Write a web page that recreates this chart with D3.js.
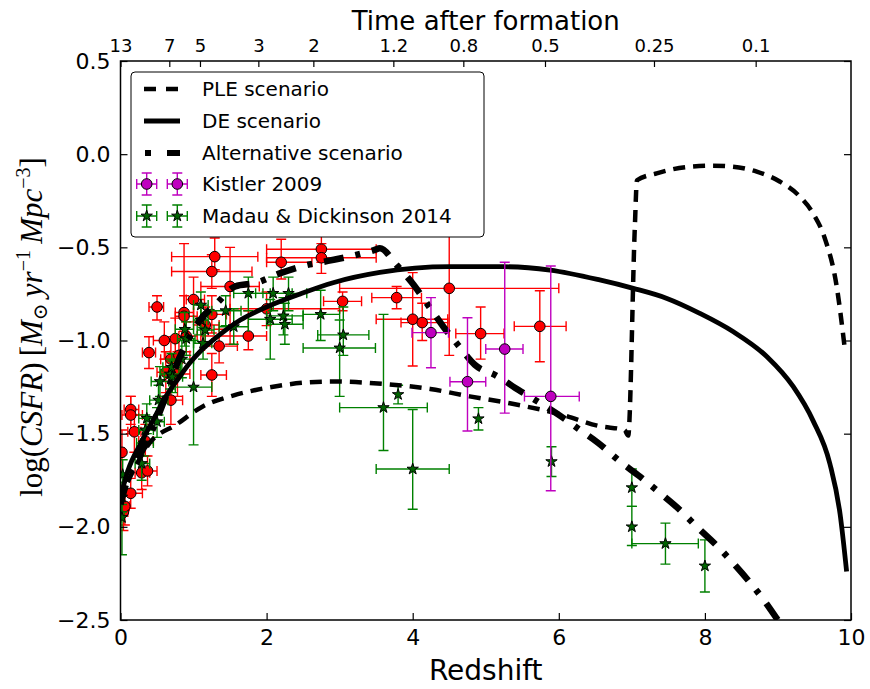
<!DOCTYPE html>
<meta charset="utf-8">
<style>
body { margin: 0; background: #fff; }
text { font-family: "DejaVu Sans", sans-serif; fill: #000; }
.axis path.domain { display: none; }
.axis .tick line { stroke: #000; stroke-width: 1.2; }
</style>
<body>
<script src="https://d3js.org/d3.v7.min.js"></script>
<script>
// ---- data ----
// points: [z, value, zLow, zHigh, valueLow, valueHigh]
var redPoints = [
  [0.02, -1.60, 0.00, 0.05, -1.72, -1.48],
  [0.04, -1.92, 0.00, 0.10, -2.02, -1.82],
  [0.06, -1.89, 0.00, 0.12, -1.99, -1.80],
  [0.14, -1.37, 0.05, 0.25, -1.45, -1.30],
  [0.14, -1.40, 0.02, 0.30, -1.50, -1.30],
  [0.14, -1.82, 0.05, 0.30, -1.90, -1.74],
  [0.19, -1.49, 0.10, 0.28, -1.60, -1.40],
  [0.34, -1.54, 0.25, 0.45, -1.62, -1.45],
  [0.29, -1.71, 0.20, 0.40, -1.80, -1.62],
  [0.37, -1.70, 0.28, 0.50, -1.78, -1.62],
  [0.39, -1.065, 0.30, 0.48, -1.15, -0.98],
  [0.50, -0.82, 0.39, 0.59, -0.89, -0.76],
  [0.60, -1.00, 0.45, 0.75, -1.10, -0.90],
  [0.62, -1.17, 0.50, 0.75, -1.28, -1.06],
  [0.69, -1.10, 0.55, 0.85, -1.20, -0.98],
  [0.69, -1.32, 0.55, 0.85, -1.45, -1.20],
  [0.75, -0.99, 0.60, 0.90, -1.10, -0.88],
  [0.78, -1.18, 0.65, 0.95, -1.30, -1.06],
  [0.80, -1.08, 0.68, 0.95, -1.18, -0.98],
  [0.87, -0.85, 0.75, 1.00, -0.95, -0.48],
  [0.87, -0.87, 0.75, 1.05, -0.98, -0.76],
  [0.90, -0.976, 0.80, 1.05, -1.06, -0.90],
  [1.00, -0.78, 0.90, 1.15, -0.90, -0.66],
  [1.16, -0.917, 1.00, 1.35, -1.02, -0.82],
  [1.25, -0.86, 1.10, 1.45, -0.96, -0.76],
  [1.25, -1.185, 1.10, 1.45, -1.30, -1.07],
  [1.25, -0.63, 0.70, 1.80, -0.72, -0.54],
  [1.29, -0.55, 0.70, 1.88, -0.62, -0.45],
  [1.35, -1.03, 1.15, 1.60, -1.12, -0.94],
  [1.50, -0.71, 1.10, 1.90, -1.02, -0.50],
  [1.75, -0.976, 1.10, 2.00, -1.05, -0.84],
  [2.00, -0.83, 1.50, 3.00, -0.92, -0.74],
  [2.20, -0.58, 2.00, 2.62, -0.67, -0.457],
  [2.75, -0.51, 2.00, 3.50, -0.58, -0.44],
  [2.75, -0.556, 2.00, 3.50, -0.64, -0.48],
  [3.04, -0.79, 2.78, 3.30, -0.84, -0.74],
  [3.78, -0.77, 3.44, 4.12, -0.83, -0.71],
  [4.00, -0.886, 3.50, 4.48, -1.137, -0.636],
  [4.13, -0.904, 3.84, 4.48, -1.00, -0.80],
  [4.50, -0.72, 3.00, 6.00, -1.08, -0.44],
  [4.93, -0.963, 4.59, 5.25, -1.10, -0.82],
  [5.74, -0.924, 5.39, 6.10, -1.114, -0.733]
];

var madauPoints = [
  [0.02, -1.84, 0.00, 0.05, -1.92, -1.76],
  [0.02, -1.95, 0.00, 0.05, -2.15, -1.88],
  [0.03, -1.72, 0.00, 0.08, -1.80, -1.64],
  [0.29, -1.66, 0.20, 0.40, -1.75, -1.57],
  [0.32, -1.55, 0.22, 0.45, -1.62, -1.48],
  [0.34, -1.48, 0.25, 0.45, -1.56, -1.40],
  [0.36, -1.418, 0.25, 0.48, -1.50, -1.34],
  [0.50, -1.436, 0.40, 0.60, -1.52, -1.36],
  [0.52, -1.32, 0.40, 0.65, -1.40, -1.24],
  [0.54, -1.22, 0.42, 0.66, -1.30, -1.14],
  [0.68, -1.18, 0.55, 0.80, -1.26, -1.10],
  [0.70, -1.144, 0.58, 0.82, -1.22, -1.07],
  [0.71, -1.195, 0.60, 0.85, -1.28, -1.11],
  [0.84, -1.10, 0.70, 1.00, -1.20, -1.00],
  [0.88, -0.94, 0.75, 1.00, -1.03, -0.85],
  [0.90, -0.99, 0.78, 1.02, -1.08, -0.90],
  [1.00, -1.25, 0.75, 1.25, -1.56, -1.00],
  [1.10, -0.81, 1.00, 1.20, -0.88, -0.74],
  [1.10, -0.89, 1.00, 1.20, -0.97, -0.81],
  [1.13, -1.015, 1.00, 1.25, -1.10, -0.93],
  [1.16, -0.944, 1.05, 1.28, -1.02, -0.86],
  [1.44, -0.84, 1.25, 1.65, -0.92, -0.76],
  [1.55, -0.926, 1.35, 1.75, -1.02, -0.83],
  [1.75, -0.747, 1.55, 1.95, -0.84, -0.66],
  [2.05, -0.886, 1.75, 2.35, -1.10, -0.78],
  [2.09, -0.747, 1.85, 2.35, -0.84, -0.66],
  [2.23, -0.868, 2.00, 2.50, -0.97, -0.77],
  [2.25, -0.913, 2.00, 2.50, -1.02, -0.80],
  [2.30, -0.747, 2.05, 2.55, -0.84, -0.66],
  [2.74, -0.86, 2.50, 3.00, -1.00, -0.73],
  [3.05, -0.97, 2.70, 3.40, -1.08, -0.82],
  [3.00, -1.04, 2.50, 3.49, -1.30, -0.89],
  [3.60, -1.36, 3.00, 4.20, -1.59, -0.86],
  [3.80, -1.29, 3.80, 3.80, -1.34, -1.24],
  [4.00, -1.69, 3.50, 4.50, -1.906, -1.37],
  [4.90, -1.42, 4.90, 4.90, -1.48, -1.36],
  [5.90, -1.65, 5.90, 5.90, -1.73, -1.57],
  [7.00, -1.79, 7.00, 7.00, -1.89, -1.69],
  [7.00, -2.00, 7.00, 7.00, -2.10, -1.89],
  [7.46, -2.09, 7.00, 7.91, -2.20, -1.98],
  [8.00, -2.21, 8.00, 8.00, -2.35, -2.07]
];

var kistlerPoints = [
  [4.25, -0.958, 3.99, 4.49, -1.146, -0.77],
  [4.75, -1.221, 4.51, 5.00, -1.486, -0.878],
  [5.26, -1.046, 5.00, 5.51, -1.39, -0.58],
  [5.89, -1.30, 5.53, 6.28, -1.806, -0.60]
];

var pleZ = [0, 0.1, 0.2, 0.4, 0.77, 1.12, 1.54, 2.09, 2.55, 2.9, 3.6, 4.24, 4.78, 5.33, 6.06, 6.56, 6.9, 6.95, 7.04, 7.07, 7.34, 7.8, 8.11, 8.38, 8.71, 9.03, 9.30, 9.48, 9.64, 9.8, 9.92];
var pleY = [-1.86, -1.76, -1.68, -1.55, -1.45, -1.355, -1.296, -1.248, -1.225, -1.22, -1.233, -1.26, -1.30, -1.337, -1.40, -1.46, -1.48, -1.51, -0.40, -0.14, -0.103, -0.067, -0.062, -0.067, -0.094, -0.148, -0.228, -0.317, -0.45, -0.70, -1.06];

var deZ = [0, 0.1, 0.28, 0.47, 0.59, 0.8, 0.95, 1.1, 1.27, 1.64, 2.0, 2.46, 2.91, 3.55, 4.51, 5.24, 5.88, 6.56, 7.02, 7.48, 7.93, 8.39, 8.85, 9.21, 9.48, 9.71, 9.85, 9.94];
var deY = [-1.84, -1.70, -1.55, -1.41, -1.32, -1.20, -1.12, -1.055, -0.997, -0.89, -0.82, -0.75, -0.69, -0.635, -0.604, -0.604, -0.622, -0.675, -0.72, -0.774, -0.854, -0.953, -1.087, -1.248, -1.43, -1.66, -1.93, -2.24];

var altZ = [0, 0.1, 0.2, 0.38, 0.6, 0.8, 0.95, 1.09, 1.32, 1.57, 1.86, 2.18, 2.5, 2.84, 3.18, 3.48, 3.55, 3.78, 4.01, 4.21, 4.42, 4.62, 4.85, 5.15, 5.45, 5.72, 6.04, 6.29, 6.54, 6.84, 7.11, 7.39, 7.66, 7.89, 8.16, 8.39, 8.62, 8.82, 8.98, 9.1];
var altY = [-1.88, -1.74, -1.66, -1.53, -1.32, -1.10, -0.98, -0.89, -0.80, -0.71, -0.69, -0.64, -0.60, -0.573, -0.545, -0.514, -0.505, -0.595, -0.70, -0.81, -0.926, -1.024, -1.13, -1.19, -1.266, -1.33, -1.41, -1.48, -1.55, -1.65, -1.73, -1.82, -1.91, -2.0, -2.10, -2.196, -2.30, -2.40, -2.49, -2.56];

// top axis: age labels (Gyr) and the redshift where each sits
var ageLabels = ["13", "7", "5", "3", "2", "1.2", "0.8", "0.5", "0.25", "0.1"];
var ageZ = [0, 0.668, 1.088, 1.887, 2.64, 3.735, 4.693, 5.811, 7.303, 8.695];

var yTicks = [0.5, 0.0, -0.5, -1.0, -1.5, -2.0, -2.5];
var xTicks = [0, 2, 4, 6, 8, 10];

// ---- layout ----
var W = 870, H = 689;
var L = 120.5, R = 851, T = 61, B = 620;

var svg = d3.select("body").append("svg").attr("width", W).attr("height", H);

var x = d3.scaleLinear().domain([0, 10]).range([L, R]),
    y = d3.scaleLinear().domain([-2.5, 0.5]).range([B, T]);

svg.append("defs").append("clipPath").attr("id", "plotclip")
  .append("rect").attr("x", L).attr("y", T).attr("width", R - L).attr("height", B - T);

var plot = svg.append("g").attr("clip-path", "url(#plotclip)");

var cap = 5;
function errorPath(d) {
  var p = "", cx = x(d[0]), cy = y(d[1]);
  var x0 = x(d[2]), x1 = x(d[3]), y0 = y(d[4]), y1 = y(d[5]);
  if (x1 - x0 > 0.5) {
    p += "M" + x0 + "," + cy + "H" + x1;
    p += "M" + x0 + "," + (cy - cap) + "V" + (cy + cap);
    p += "M" + x1 + "," + (cy - cap) + "V" + (cy + cap);
  }
  p += "M" + cx + "," + y0 + "V" + y1;
  p += "M" + (cx - cap) + "," + y0 + "H" + (cx + cap);
  p += "M" + (cx - cap) + "," + y1 + "H" + (cx + cap);
  return p;
}

var star = d3.symbol().type(d3.symbolStar).size(40);

function drawSet(data, color, fill, marker) {
  var g = plot.append("g");
  g.selectAll(".eb").data(data).enter().append("path")
    .attr("class", "eb")
    .attr("d", errorPath)
    .attr("fill", "none")
    .attr("stroke", color)
    .attr("stroke-width", 1.4);
  if (marker == "circle") {
    g.selectAll(".mk").data(data).enter().append("circle")
      .attr("class", "mk")
      .attr("cx", function(d) { return x(d[0]); })
      .attr("cy", function(d) { return y(d[1]); })
      .attr("r", 5.3)
      .attr("fill", fill)
      .attr("stroke", "#000")
      .attr("stroke-width", 1);
  } else {
    g.selectAll(".mk").data(data).enter().append("path")
      .attr("class", "mk")
      .attr("transform", function(d) { return "translate(" + x(d[0]) + "," + y(d[1]) + ")"; })
      .attr("d", star)
      .attr("fill", fill)
      .attr("stroke", "#000")
      .attr("stroke-width", 1);
  }
}

drawSet(redPoints, "#ff0000", "#ff0000", "circle");
drawSet(madauPoints, "#008000", "#006400", "star");

var line = d3.line()
  .x(function(d) { return x(d[0]); })
  .y(function(d) { return y(d[1]); })
  .curve(d3.curveMonotoneX);

function zip(a, b) { return a.map(function(v, i) { return [v, b[i]]; }); }

plot.append("path").datum(zip(deZ, deY))
  .attr("d", line).attr("fill", "none").attr("stroke", "#000").attr("stroke-width", 4.8);
plot.append("path").datum(zip(pleZ, pleY))
  .attr("d", line).attr("fill", "none").attr("stroke", "#000").attr("stroke-width", 4.5)
  .attr("stroke-dasharray", "12,8");
plot.append("path").datum(zip(altZ, altY))
  .attr("d", line).attr("fill", "none").attr("stroke", "#000").attr("stroke-width", 6.5)
  .attr("stroke-dasharray", "20,12,5,12");

drawSet(kistlerPoints, "#bf00bf", "#bf00bf", "circle");

// ---- axes ----
svg.append("g").attr("class", "axis")
  .attr("transform", "translate(" + L + ",0)")
  .call(d3.axisLeft(y).tickValues(yTicks).tickFormat(d3.format(".1f")).tickSize(-7).tickPadding(10))
  .selectAll("text").style("font-size", "22px");

svg.append("g").attr("class", "axis")
  .attr("transform", "translate(" + R + ",0)")
  .call(d3.axisRight(y).tickValues(yTicks).tickFormat("").tickSize(-7));

svg.append("g").attr("class", "axis")
  .attr("transform", "translate(0," + B + ")")
  .call(d3.axisBottom(x).tickValues(xTicks).tickFormat(d3.format("d")).tickSize(-7).tickPadding(9))
  .selectAll("text").style("font-size", "22px");

svg.append("g").attr("class", "axis")
  .attr("transform", "translate(0," + T + ")")
  .call(d3.axisTop(x).tickValues(ageZ).tickFormat(function(d, i) { return ageLabels[i]; }).tickSize(-6).tickPadding(9))
  .selectAll("text").style("font-size", "18px");

svg.append("rect")
  .attr("x", L).attr("y", T).attr("width", R - L).attr("height", B - T)
  .attr("fill", "none").attr("stroke", "#000").attr("stroke-width", 1.5);

svg.append("text").attr("x", (L + R) / 2).attr("y", 680)
  .attr("text-anchor", "middle").style("font-size", "28px").text("Redshift");

svg.append("text").attr("x", (L + R) / 2).attr("y", 30)
  .attr("text-anchor", "middle").style("font-size", "26px").text("Time after formation");

var yl = svg.append("text")
  .attr("transform", "translate(42,327) rotate(-90)")
  .attr("text-anchor", "middle")
  .style("font-family", "'Liberation Serif', 'DejaVu Serif', serif")
  .style("font-size", "31px");
yl.append("tspan").text("log(");
yl.append("tspan").style("font-style", "italic").text("CSFR");
yl.append("tspan").text(")\u2009[");
yl.append("tspan").style("font-style", "italic").text("M");
yl.append("tspan").attr("dy", 5).style("font-size", "20px").text("\u2299");
yl.append("tspan").attr("dy", -5).style("font-style", "italic").text("\u2009yr");
yl.append("tspan").attr("dy", -12).style("font-size", "20px").text("\u22121");
yl.append("tspan").attr("dy", 12).style("font-style", "italic").text("\u2009Mpc");
yl.append("tspan").attr("dy", -12).style("font-size", "20px").text("\u22123");
yl.append("tspan").attr("dy", 12).text("]");

// ---- legend ----
var leg = svg.append("g");
leg.append("rect").attr("x", 131).attr("y", 72).attr("width", 353).attr("height", 165)
  .attr("rx", 4).attr("fill", "#fff").attr("stroke", "#000").attr("stroke-width", 1);

var legNames = ["PLE scenario", "DE scenario", "Alternative scenario", "Kistler 2009", "Madau & Dickinson 2014"];
var legY = [89, 121, 153, 184, 216];

leg.selectAll(".lt").data(legNames).enter().append("text")
  .attr("class", "lt")
  .attr("x", 202)
  .attr("y", function(d, i) { return legY[i]; })
  .attr("dy", "0.36em")
  .style("font-size", "20px")
  .text(function(d) { return d; });

leg.append("line").attr("x1", 144).attr("x2", 180).attr("y1", legY[0]).attr("y2", legY[0])
  .attr("stroke", "#000").attr("stroke-width", 4.5).attr("stroke-dasharray", "12,10");
leg.append("line").attr("x1", 144).attr("x2", 180).attr("y1", legY[1]).attr("y2", legY[1])
  .attr("stroke", "#000").attr("stroke-width", 4.8);
leg.append("line").attr("x1", 145).attr("x2", 181).attr("y1", legY[2]).attr("y2", legY[2])
  .attr("stroke", "#000").attr("stroke-width", 6).attr("stroke-dasharray", "6,16,13,100");

function legMarks(yy, color, fill, marker) {
  [146.7, 177.3].forEach(function(cx) {
    var p = "M" + (cx - 10) + "," + yy + "H" + (cx + 10) +
      "M" + (cx - 10) + "," + (yy - cap) + "V" + (yy + cap) +
      "M" + (cx + 10) + "," + (yy - cap) + "V" + (yy + cap) +
      "M" + cx + "," + (yy - 11) + "V" + (yy + 11) +
      "M" + (cx - cap) + "," + (yy - 11) + "H" + (cx + cap) +
      "M" + (cx - cap) + "," + (yy + 11) + "H" + (cx + cap);
    leg.append("path").attr("d", p).attr("fill", "none").attr("stroke", color).attr("stroke-width", 1.4);
    if (marker == "circle") {
      leg.append("circle").attr("cx", cx).attr("cy", yy).attr("r", 5.3)
        .attr("fill", fill).attr("stroke", "#000").attr("stroke-width", 1);
    } else {
      leg.append("path").attr("transform", "translate(" + cx + "," + yy + ")").attr("d", star)
        .attr("fill", fill).attr("stroke", "#000").attr("stroke-width", 1);
    }
  });
}
legMarks(legY[3], "#bf00bf", "#bf00bf", "circle");
legMarks(legY[4], "#008000", "#006400", "star");
</script>
</body>
